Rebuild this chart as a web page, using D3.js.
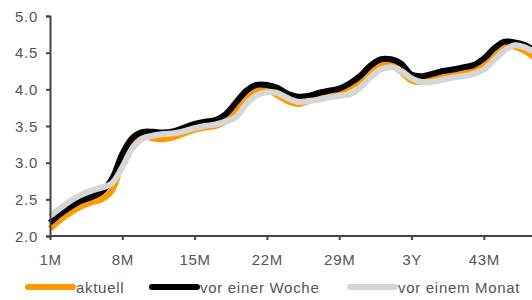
<!DOCTYPE html>
<html lang="de">
<head>
  <title>Zinskurve</title>
  <script type="text/javascript" src="https://cdnjs.cloudflare.com/ajax/libs/d3/7.8.5/d3.min.js"></script>
  <style>
    body {
      margin: 0px;
      background: #ffffff;
    }
    svg {
      display: block;
    }
    text {
      font-family: "Liberation Sans", Arial, sans-serif;
      font-size: 15px;
      fill: #555555;
      letter-spacing: 0.7px;
    }
  </style>
</head>
<body>
  <script type="text/javascript">
    var width = 532;
    var height = 300;

    // Laufzeiten in Monaten (1..48)
    var months = d3.range(1, 49);
    var categories = months.map(function (m) {
      return (m % 12 === 0) ? (m / 12) + "Y" : m + "M";
    });
    var tickLabels = ["1M", "8M", "15M", "22M", "29M", "3Y", "43M"];
    var yTicks = [2.0, 2.5, 3.0, 3.5, 4.0, 4.5, 5.0];

    var aktuell = [2.10, 2.22, 2.32, 2.40, 2.46, 2.50, 2.62, 3.00, 3.28, 3.36,
                   3.33, 3.32, 3.35, 3.40, 3.45, 3.48, 3.50, 3.56, 3.72, 3.90,
                   3.98, 3.99, 3.92, 3.84, 3.80, 3.84, 3.90, 3.93, 3.97, 4.03,
                   4.12, 4.26, 4.35, 4.34, 4.24, 4.12, 4.10, 4.15, 4.19, 4.22,
                   4.24, 4.27, 4.36, 4.50, 4.59, 4.58, 4.52, 4.42];
    var vorWoche = [2.18, 2.30, 2.40, 2.48, 2.53, 2.60, 2.78, 3.12, 3.34, 3.42,
                    3.42, 3.41, 3.43, 3.48, 3.53, 3.56, 3.58, 3.66, 3.82, 3.98,
                    4.06, 4.06, 4.02, 3.94, 3.90, 3.91, 3.95, 3.98, 4.01, 4.08,
                    4.18, 4.32, 4.41, 4.41, 4.35, 4.20, 4.18, 4.21, 4.25, 4.27,
                    4.30, 4.33, 4.42, 4.56, 4.65, 4.64, 4.60, 4.52];
    var vorMonat = [2.27, 2.38, 2.48, 2.56, 2.62, 2.66, 2.72, 2.94, 3.20, 3.33,
                    3.37, 3.39, 3.40, 3.43, 3.47, 3.50, 3.52, 3.56, 3.62, 3.80,
                    3.92, 3.96, 3.95, 3.88, 3.83, 3.84, 3.86, 3.89, 3.91, 3.93,
                    4.02, 4.16, 4.27, 4.30, 4.25, 4.15, 4.10, 4.10, 4.13, 4.16,
                    4.18, 4.21, 4.27, 4.40, 4.53, 4.60, 4.57, 4.50];

    var series = [
      {name: "aktuell", values: aktuell, color: "#ff9900"},
      {name: "vor einer Woche", values: vorWoche, color: "#000000"},
      {name: "vor einem Monat", values: vorMonat, color: "#d6d6d6"}
    ];

    var svg = d3.select("body").append("svg")
      .attr("width", width)
      .attr("height", height);

    // the plot runs past the right edge, like the source
    var x = d3.scalePoint()
      .domain(categories)
      .range([50, 50 + 47 * 10.33]);

    var y = d3.scaleLinear()
      .domain([2, 5])
      .range([236, 16]);

    // lines
    var line = d3.line()
      .x(function (d, i) { return x(categories[i]); })
      .y(function (d) { return y(d); })
      .curve(d3.curveCatmullRom);

    svg.selectAll("path.serie")
      .data(series)
      .enter().append("path")
      .attr("class", "serie")
      .attr("fill", "none")
      .attr("stroke", function (d) { return d.color; })
      .attr("stroke-width", 6)
      .attr("stroke-linejoin", "round")
      .attr("d", function (d) { return line(d.values); });

    // y axis
    var yAxis = svg.append("g")
      .attr("transform", "translate(50,0)")
      .call(d3.axisLeft(y).tickValues(yTicks).tickFormat(d3.format(".1f")).tickSize(4).tickPadding(8));

    // x axis
    var xAxis = svg.append("g")
      .attr("transform", "translate(0,236)")
      .call(d3.axisBottom(x).tickValues(tickLabels).tickSize(4).tickPadding(14));
    xAxis.select(".domain").attr("d", "M50,0H" + width);

    svg.selectAll(".domain").attr("stroke", "#444").attr("stroke-width", 2);
    svg.selectAll(".tick line").attr("stroke", "#444").attr("stroke-width", 2);
    svg.selectAll(".tick text")
      .style("font-family", "'Liberation Sans', Arial, sans-serif")
      .style("font-size", "15px")
      .style("letter-spacing", "0.7px")
      .attr("fill", "#5a5a5a");
    yAxis.selectAll(".tick text").attr("dy", "0.35em");

    // legend
    var legendX = [28, 152, 350];
    var legend = svg.selectAll("g.legend")
      .data(series)
      .enter().append("g")
      .attr("class", "legend")
      .attr("transform", function (d, i) { return "translate(" + legendX[i] + ",287)"; });

    legend.append("line")
      .attr("x1", 0).attr("x2", 45)
      .attr("y1", 0).attr("y2", 0)
      .attr("stroke", function (d) { return d.color; })
      .attr("stroke-width", 6)
      .attr("stroke-linecap", "round");

    legend.append("text")
      .attr("x", 48)
      .attr("y", 6)
      .text(function (d) { return d.name; });
  </script>
</body>
</html>
